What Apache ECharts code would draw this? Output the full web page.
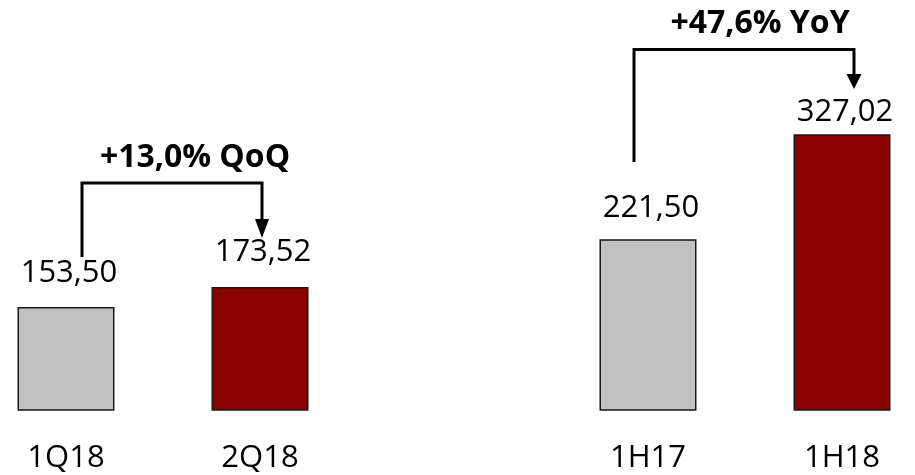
<!DOCTYPE html>
<html>
<head>
<meta charset="utf-8">
<script src="https://cdn.jsdelivr.net/npm/echarts@6/dist/echarts.min.js"></script>
<style>
  html, body { margin: 0; padding: 0; background: #fff; }
  #main { width: 915px; height: 475px; }
</style>
</head>
<body>
<div id="main"></div>
<script>
  // periods (empty slot keeps the gap between the two groups)
  const categories = ['1Q18', '2Q18', '', '1H17', '1H18']
  const values = [153.50, 173.52, null, 221.50, 327.02]
  const isCurrent = [false, true, false, false, true]
  // growth annotations
  const growthFrom = ['1Q18', '1H17']
  const growthTo = ['2Q18', '1H18']
  const growthText = ['+13,0% QoQ', '+47,6% YoY']

  // label lift above each bar (px)
  const labelLift = [18, 19, 0, 16, 7]

  const fmt = v => v.toFixed(2).replace('.', ',')

  const myChart = echarts.init(document.getElementById('main'), null, { renderer: 'canvas' })

  // slots are placed on a numeric x axis so the outer bars can sit near the edges
  const slots = []
  const seriesData = []
  values.forEach((v, i) => {
    if (v == null) return
    slots.push(i)
    seriesData.push({
      value: [i, v],
      itemStyle: { color: isCurrent[i] ? '#8B0000' : '#C0C0C0' },
      label: { distance: labelLift[i] }
    })
  })

  myChart.setOption({
    animation: false,
    grid: { left: 0, right: 0, top: 12, bottom: 65 },
    xAxis: {
      type: 'value',
      min: -0.3402,
      max: 4.3763,
      splitLine: { show: false },
      axisLine: { show: false },
      axisTick: { show: false },
      axisLabel: {
        customValues: slots,
        formatter: v => categories[Math.round(v)] || '',
        margin: 33,
        fontFamily: 'Open Sans',
        fontSize: 31,
        color: '#000'
      }
    },
    yAxis: {
      type: 'value',
      min: 50,
      max: 450,
      show: false
    },
    series: [
      {
        type: 'bar',
        data: seriesData,
        barWidth: 97,
        itemStyle: { borderColor: '#1a1a1a', borderWidth: 1.5 },
        label: {
          show: true,
          position: 'top',
          offset: [3, 0],
          fontFamily: 'Open Sans',
          fontSize: 31,
          color: '#000',
          formatter: p => fmt(p.value[1])
        }
      }
    ]
  })

  // brackets with arrows, placed from the bar positions
  const bracketStyle = [
    { dx1: 16, dx2: 2, yBottom: 257, yTop: 183, headBase: 219, tip: 238, headW: 14, textX: 195, textY: 158 },
    { dx1: -14, dx2: 12, yBottom: 162, yTop: 49.5, headBase: 74, tip: 89, headW: 15, textX: 760, textY: 24 }
  ]
  const graphics = []
  growthFrom.forEach((c, i) => {
    const s = bracketStyle[i]
    const x1 = myChart.convertToPixel({ xAxisIndex: 0 }, categories.indexOf(c)) + s.dx1
    const x2 = myChart.convertToPixel({ xAxisIndex: 0 }, categories.indexOf(growthTo[i])) + s.dx2
    graphics.push({
      type: 'polyline',
      shape: { points: [[x1, s.yBottom], [x1, s.yTop], [x2, s.yTop], [x2, s.headBase]] },
      style: { stroke: '#000', lineWidth: 3, fill: null }
    })
    graphics.push({
      type: 'polygon',
      shape: { points: [[x2 - s.headW / 2, s.headBase], [x2 + s.headW / 2, s.headBase], [x2, s.tip]] },
      style: { fill: '#000' }
    })
    graphics.push({
      type: 'text',
      x: s.textX,
      y: s.textY,
      style: {
        text: growthText[i],
        fontFamily: 'Open Sans',
        fontWeight: 'bold',
        fontSize: 32,
        fill: '#000',
        align: 'center',
        verticalAlign: 'middle'
      }
    })
  })
  myChart.setOption({ graphic: graphics })
</script>
</body>
</html>
